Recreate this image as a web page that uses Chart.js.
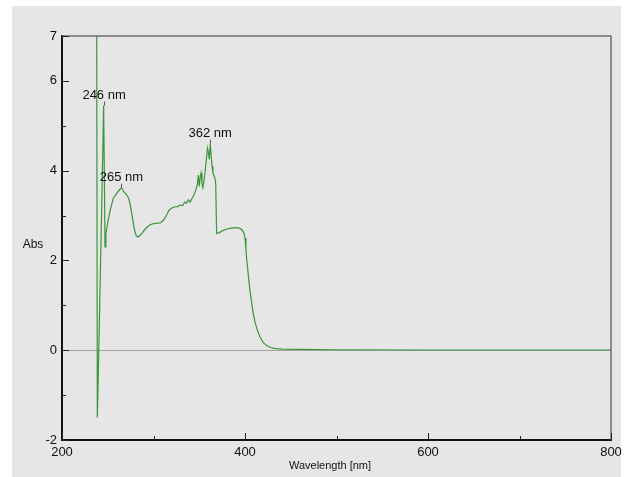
<!DOCTYPE html>
<html lang="en">
	<head>
		<meta charset="UTF-8" />
		<title>Abs spectrum</title>
		<script src="https://cdn.jsdelivr.net/npm/chart.js"></script>
		<style>
			body {
				margin: 0;
				background: #ffffff;
			}
			.chart-c {
				position: relative;
				width: 632px;
				height: 477px;
			}
		</style>
	</head>
	<body>
		<div class="chart-c">
			<canvas id="myChart"></canvas>
		</div>
		<script>
			// wavelength (nm) and absorbance
			const wavelengths = [
				237.8, 238.6, 239.5, 242, 244, 245.5, 246.5, 247, 248, 250,
				253, 256, 260, 263, 265, 267, 269, 271, 273, 275,
				277, 279, 281, 283, 285, 288, 291, 294, 297, 300,
				305, 308, 311, 314, 317, 320, 323, 326, 329, 332,
				334, 336, 338, 340, 342, 344, 346, 348, 349, 350,
				351, 352, 353, 354, 355, 356, 357, 358, 359, 360,
				361, 362, 363, 364, 365, 366, 367, 368, 369, 372,
				375, 380, 385, 390, 394, 397, 399, 400, 401, 402,
				403.5, 405, 407, 409, 411, 414, 417, 420, 424, 428,
				432, 440, 460, 500, 600, 700, 800
			];
			const absorbance = [
				9, -1.5, -0.7, 1.8, 3.8, 5.45, 3.5, 2.3, 2.6, 2.85,
				3.15, 3.38, 3.5, 3.58, 3.62, 3.55, 3.5, 3.45, 3.38, 3.2,
				2.95, 2.7, 2.56, 2.52, 2.55, 2.62, 2.7, 2.76, 2.8, 2.82,
				2.83, 2.84, 2.9, 3.0, 3.12, 3.17, 3.19, 3.2, 3.23, 3.22,
				3.3, 3.27, 3.35, 3.3, 3.38, 3.45, 3.55, 3.7, 3.9, 3.65,
				3.85, 3.95, 3.7, 3.62, 3.75, 3.9, 4.1, 4.3, 4.5, 4.4,
				4.25, 4.6, 4.35, 4.1, 3.95, 3.9, 3.85, 3.7, 2.6, 2.62,
				2.66, 2.7, 2.72, 2.73, 2.72, 2.68, 2.6, 2.5, 2.25, 2.0,
				1.7, 1.4, 1.1, 0.82, 0.62, 0.42, 0.27, 0.17, 0.1, 0.06,
				0.04, 0.025, 0.02, 0.01, 0.005, 0.005, 0.005
			];

			// peak labels
			const peakLabels = ["246 nm", "265 nm", "362 nm"];
			const peakX = [246, 265, 362];
			const peakY = [5.45, 3.62, 4.6];

			// axis ticks
			const xTicks = [200, 300, 400, 500, 600, 700, 800];
			const xLabelled = [200, 400, 600, 800];
			const yTicks = [-2, -1, 0, 1, 2, 3, 4, 5, 6, 7];
			const yLabelled = [-2, 0, 2, 4, 6, 7];

			const fonte = "'Liberation Sans', Arial, sans-serif";

			const pontos = wavelengths.map((w, i) => ({ x: w, y: absorbance[i] }));

			const fundoPlugin = {
				id: "fundo",
				beforeDraw(chart) {
					const ctx = chart.ctx;
					ctx.save();
					ctx.fillStyle = "#e6e6e6";
					ctx.fillRect(12, 6, 609, 471);
					ctx.restore();
				},
				afterDraw(chart) {
					const ctx = chart.ctx;
					const a = chart.chartArea;
					const xs = chart.scales.x;
					const ys = chart.scales.y;
					ctx.save();
					// top and right frame
					ctx.strokeStyle = "#6e6e6e";
					ctx.lineWidth = 1.5;
					ctx.beginPath();
					ctx.moveTo(a.left, a.top);
					ctx.lineTo(a.right, a.top);
					ctx.lineTo(a.right, a.bottom);
					ctx.stroke();

					// inward ticks
					ctx.strokeStyle = "#222";
					ctx.lineWidth = 1;
					ctx.beginPath();
					xTicks.forEach((v) => {
						const px = Math.round(xs.getPixelForValue(v)) + 0.5;
						const len = xLabelled.includes(v) ? 7 : 4;
						ctx.moveTo(px, a.bottom);
						ctx.lineTo(px, a.bottom - len);
					});
					yTicks.forEach((v) => {
						const py = Math.round(ys.getPixelForValue(v)) + 0.5;
						const len = yLabelled.includes(v) ? 7 : 4;
						ctx.moveTo(a.left, py);
						ctx.lineTo(a.left + len, py);
					});
					ctx.stroke();

					// peak annotations
					ctx.font = "13px " + fonte;
					ctx.fillStyle = "#111";
					ctx.textAlign = "center";
					ctx.textBaseline = "middle";
					ctx.strokeStyle = "#555";
					peakLabels.forEach((t, i) => {
						const px = xs.getPixelForValue(peakX[i]);
						const py = ys.getPixelForValue(peakY[i]);
						ctx.fillText(t, px, py - 10);
						ctx.beginPath();
						ctx.moveTo(Math.round(px) + 0.5, py - 4);
						ctx.lineTo(Math.round(px) + 0.5, py);
						ctx.stroke();
					});

					// axis titles
					ctx.font = "12px " + fonte;
					ctx.fillText("Abs", 33, 245);
					ctx.font = "11px " + fonte;
					ctx.fillText("Wavelength [nm]", 330, 466);
					ctx.restore();
				},
			};

			const ctx = document.getElementById("myChart").getContext("2d");
			new Chart(ctx, {
				type: "line",
				data: {
					datasets: [
						{
							label: "Abs",
							data: pontos,
							borderColor: "#3a963a",
							borderWidth: 1.2,
							pointRadius: 0,
							tension: 0,
							fill: false,
						},
					],
				},
				options: {
					responsive: true,
					maintainAspectRatio: false,
					animation: false,
					layout: {
						padding: { left: 0, right: 21, top: 36, bottom: 0 },
					},
					plugins: {
						legend: { display: false },
						tooltip: { enabled: false },
					},
					scales: {
						x: {
							type: "linear",
							min: 200,
							max: 800,
							afterFit: (s) => {
								s.height = 37;
							},
							afterBuildTicks: (s) => {
								s.ticks = xTicks.map((v) => ({ value: v }));
							},
							ticks: {
								padding: 5,
								maxRotation: 0,
								color: "#111",
								font: { family: fonte, size: 13 },
								callback: (v) => (xLabelled.includes(v) ? v : ""),
							},
							grid: {
								drawOnChartArea: false,
								drawTicks: false,
							},
							border: { color: "#111", width: 2 },
						},
						y: {
							min: -2,
							max: 7,
							afterFit: (s) => {
								s.width = 62;
							},
							afterBuildTicks: (s) => {
								s.ticks = yTicks.map((v) => ({ value: v }));
							},
							ticks: {
								padding: 5,
								color: "#111",
								font: { family: fonte, size: 13 },
								callback: (v) => (yLabelled.includes(v) ? v : ""),
							},
							grid: {
								drawTicks: false,
								lineWidth: 1,
								color: (c) =>
									c.tick && c.tick.value === 0
										? "#a3a3a3"
										: "rgba(0,0,0,0)",
							},
							border: { color: "#111", width: 2 },
						},
					},
				},
				plugins: [fundoPlugin],
			});
		</script>
	</body>
</html>
